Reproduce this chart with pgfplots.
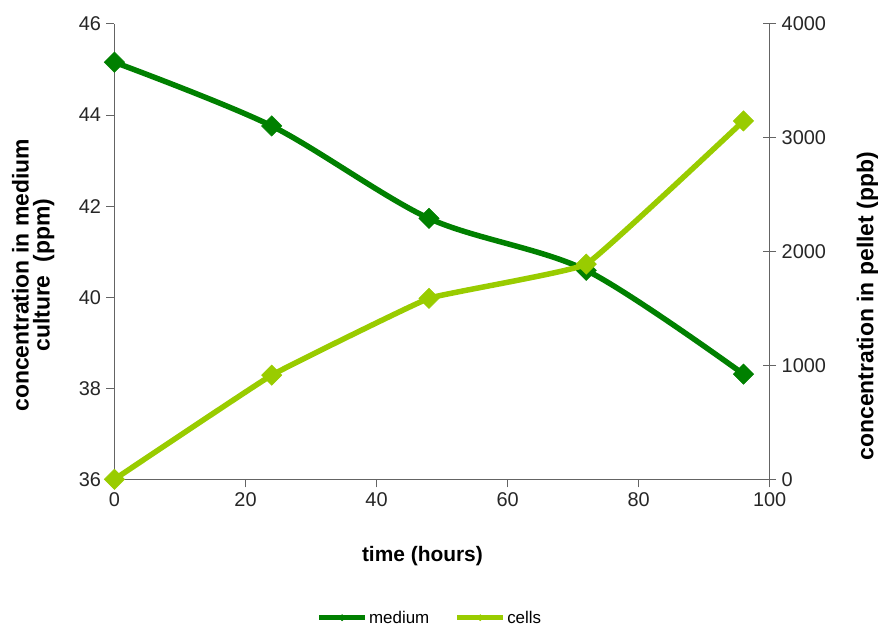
\documentclass[border=0pt]{standalone}
\usepackage{fontspec}
\setmainfont{Liberation Sans}
\usepackage{pgfplots}
\pgfplotsset{compat=1.18}
\definecolor{medgreen}{RGB}{0,128,0}
\definecolor{cellgreen}{RGB}{153,204,0}
\definecolor{axisgray}{RGB}{100,100,100}

\begin{document}
\begin{tikzpicture}[x=1bp,y=1bp]
\path (0,0) rectangle (878,628);
\pgfplotsset{
  base/.style={
    scale only axis, width=655.5bp, height=455.5bp,
    at={(114.5bp,148.5bp)}, anchor=south west,
    xmin=0, xmax=100,
    /pgf/number format/assume math mode=true,
    /pgf/number format/1000 sep={},
    tick label style={font=\fontsize{20}{20}\selectfont, color=black!85},
    axis line style={-, axisgray, line width=1bp},
    tick style={axisgray, line width=1bp},
    label style={font=\bfseries\fontsize{21}{21}\selectfont, align=center, inner sep=0pt},
  },
  legend image code/.code={
    \draw[mark repeat=2, mark phase=2, #1] plot coordinates {(0bp,0bp) (23bp,0bp) (46bp,0bp)};
  },
}
% left axis: concentration in the medium (ppm)
\begin{axis}[base,
  axis x line*=bottom, axis y line*=left,
  ymin=36, ymax=46, ytick={36,38,...,46},
  xtick={0,20,...,100},
  tick align=outside, major tick length=8bp,
  xlabel={time (hours)},
  ylabel={concentration in medium\\culture\ \ (ppm)},
  xlabel style={at={(axis description cs:0.47,-0.169)}, anchor=center},
  ylabel style={at={(axis description cs:-0.124,0.448)}, anchor=center, rotate=0,
    font=\bfseries\fontsize{23}{21}\selectfont},
  xticklabel style={yshift=-2bp},
  yticklabel style={xshift=-2bp},
]
\addplot[medgreen, line width=5.5bp, smooth, tension=0.5,
  mark=square*, mark size=7.2bp, mark options={rotate=45, solid, line width=0.5bp}, forget plot]
  coordinates {(0,45.16) (24,43.76) (48,41.73) (72,40.59) (96,38.31)};
\end{axis}
% right axis: concentration in the pellet (ppb)
\begin{axis}[base,
  axis x line=none, axis y line*=right,
  ymin=0, ymax=4000, ytick={0,1000,...,4000},
  tick align=center, major tick length=13bp,
  ylabel={concentration in pellet (ppb)},
  ylabel style={at={(axis description cs:1.149,0.38)}, anchor=center, rotate=0,
    font=\bfseries\fontsize{23}{23}\selectfont},
  yticklabel style={xshift=2bp},
  legend style={at={(axis description cs:0.481,-0.304)}, anchor=center,
    draw=none, fill=none, legend columns=2, inner sep=0pt,
    font=\fontsize{17}{17}\selectfont,
    /tikz/every even column/.append style={column sep=24bp},
    nodes={inner xsep=1.5bp, inner ysep=1pt}},
]
\addlegendimage{medgreen, line width=5bp, mark=square*, mark size=2.2bp, mark options={rotate=45, solid, line width=0.5bp}}
\addlegendentry{medium}
\addlegendimage{cellgreen, line width=5bp, mark=square*, mark size=2.2bp, mark options={rotate=45, solid, line width=0.5bp}}
\addlegendentry{cells}
\addplot[cellgreen, line width=5.5bp, smooth, tension=0.15,
  mark=square*, mark size=7.2bp, mark options={rotate=45, solid, line width=0.5bp}, forget plot]
  coordinates {(0,0) (24,915) (48,1590) (72,1890) (96,3148)};
\end{axis}
\end{tikzpicture}
\end{document}
